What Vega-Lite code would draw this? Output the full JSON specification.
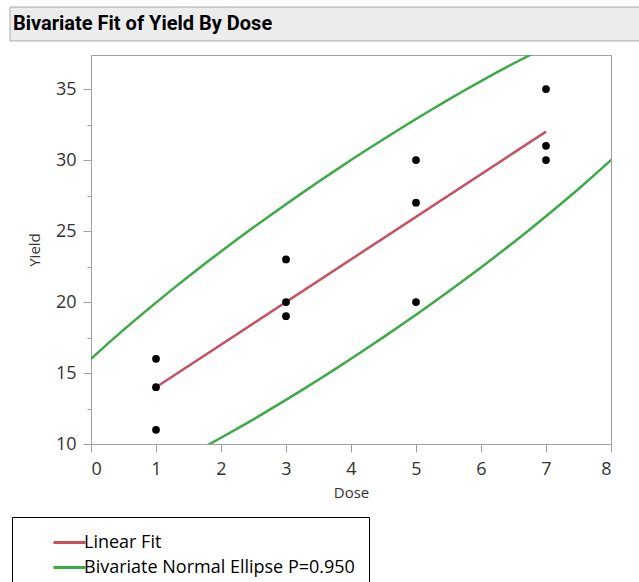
{
  "$schema": "https://vega.github.io/schema/vega-lite/v6.json",
  "width": 520,
  "height": 389,
  "autosize": {"type": "none"},
  "padding": {"left": 91, "top": 55, "right": 28, "bottom": 138},
  "background": "white",
  "title": {
    "text": "Bivariate Fit of Yield By Dose",
    "anchor": "start",
    "frame": "group",
    "orient": "top",
    "baseline": "alphabetic",
    "offset": -24,
    "dx": -78,
    "dy": 19,
    "font": "Roboto",
    "fontSize": 20,
    "fontWeight": "bold",
    "color": "black"
  },
  "config": {
    "view": {"stroke": "#a0a0a0", "strokeWidth": 1},
    "axis": {
      "domainColor": "#a0a0a0",
      "tickColor": "#a0a0a0",
      "grid": false,
      "labelFont": "Open Sans",
      "labelFontSize": 18,
      "labelColor": "#333333",
      "titleFont": "Open Sans",
      "titleFontSize": 15,
      "titleFontWeight": "normal",
      "titleColor": "#333333"
    }
  },
  "datasets": {
    "points": [
      {"dose": 1, "yield": 16}, {"dose": 1, "yield": 14}, {"dose": 1, "yield": 11},
      {"dose": 3, "yield": 23}, {"dose": 3, "yield": 20}, {"dose": 3, "yield": 19},
      {"dose": 5, "yield": 30}, {"dose": 5, "yield": 27}, {"dose": 5, "yield": 20},
      {"dose": 7, "yield": 35}, {"dose": 7, "yield": 31}, {"dose": 7, "yield": 30}
    ],
    "fit": [
      {"dose": 1, "yield": 14, "series": "Linear Fit"},
      {"dose": 7, "yield": 32, "series": "Linear Fit"}
    ],
    "ellipse": [
      {"dose": -0.25, "yield": 14.93, "part": "upper", "series": "Bivariate Normal Ellipse P=0.950"},
      {"dose": 0, "yield": 16.0, "part": "upper", "series": "Bivariate Normal Ellipse P=0.950"},
      {"dose": 0.25, "yield": 17.03, "part": "upper", "series": "Bivariate Normal Ellipse P=0.950"},
      {"dose": 0.5, "yield": 18.04, "part": "upper", "series": "Bivariate Normal Ellipse P=0.950"},
      {"dose": 0.75, "yield": 19.01, "part": "upper", "series": "Bivariate Normal Ellipse P=0.950"},
      {"dose": 1, "yield": 19.96, "part": "upper", "series": "Bivariate Normal Ellipse P=0.950"},
      {"dose": 1.25, "yield": 20.89, "part": "upper", "series": "Bivariate Normal Ellipse P=0.950"},
      {"dose": 1.5, "yield": 21.8, "part": "upper", "series": "Bivariate Normal Ellipse P=0.950"},
      {"dose": 1.75, "yield": 22.69, "part": "upper", "series": "Bivariate Normal Ellipse P=0.950"},
      {"dose": 2, "yield": 23.56, "part": "upper", "series": "Bivariate Normal Ellipse P=0.950"},
      {"dose": 2.25, "yield": 24.42, "part": "upper", "series": "Bivariate Normal Ellipse P=0.950"},
      {"dose": 2.5, "yield": 25.26, "part": "upper", "series": "Bivariate Normal Ellipse P=0.950"},
      {"dose": 2.75, "yield": 26.08, "part": "upper", "series": "Bivariate Normal Ellipse P=0.950"},
      {"dose": 3, "yield": 26.89, "part": "upper", "series": "Bivariate Normal Ellipse P=0.950"},
      {"dose": 3.25, "yield": 27.69, "part": "upper", "series": "Bivariate Normal Ellipse P=0.950"},
      {"dose": 3.5, "yield": 28.47, "part": "upper", "series": "Bivariate Normal Ellipse P=0.950"},
      {"dose": 3.75, "yield": 29.24, "part": "upper", "series": "Bivariate Normal Ellipse P=0.950"},
      {"dose": 4, "yield": 30.0, "part": "upper", "series": "Bivariate Normal Ellipse P=0.950"},
      {"dose": 4.25, "yield": 30.74, "part": "upper", "series": "Bivariate Normal Ellipse P=0.950"},
      {"dose": 4.5, "yield": 31.47, "part": "upper", "series": "Bivariate Normal Ellipse P=0.950"},
      {"dose": 4.75, "yield": 32.19, "part": "upper", "series": "Bivariate Normal Ellipse P=0.950"},
      {"dose": 5, "yield": 32.89, "part": "upper", "series": "Bivariate Normal Ellipse P=0.950"},
      {"dose": 5.25, "yield": 33.58, "part": "upper", "series": "Bivariate Normal Ellipse P=0.950"},
      {"dose": 5.5, "yield": 34.26, "part": "upper", "series": "Bivariate Normal Ellipse P=0.950"},
      {"dose": 5.75, "yield": 34.92, "part": "upper", "series": "Bivariate Normal Ellipse P=0.950"},
      {"dose": 6, "yield": 35.56, "part": "upper", "series": "Bivariate Normal Ellipse P=0.950"},
      {"dose": 6.25, "yield": 36.19, "part": "upper", "series": "Bivariate Normal Ellipse P=0.950"},
      {"dose": 6.5, "yield": 36.8, "part": "upper", "series": "Bivariate Normal Ellipse P=0.950"},
      {"dose": 6.75, "yield": 37.39, "part": "upper", "series": "Bivariate Normal Ellipse P=0.950"},
      {"dose": 7, "yield": 37.96, "part": "upper", "series": "Bivariate Normal Ellipse P=0.950"},
      {"dose": 1.5, "yield": 9.2, "part": "lower", "series": "Bivariate Normal Ellipse P=0.950"},
      {"dose": 1.75, "yield": 9.81, "part": "lower", "series": "Bivariate Normal Ellipse P=0.950"},
      {"dose": 2, "yield": 10.44, "part": "lower", "series": "Bivariate Normal Ellipse P=0.950"},
      {"dose": 2.25, "yield": 11.08, "part": "lower", "series": "Bivariate Normal Ellipse P=0.950"},
      {"dose": 2.5, "yield": 11.74, "part": "lower", "series": "Bivariate Normal Ellipse P=0.950"},
      {"dose": 2.75, "yield": 12.42, "part": "lower", "series": "Bivariate Normal Ellipse P=0.950"},
      {"dose": 3, "yield": 13.11, "part": "lower", "series": "Bivariate Normal Ellipse P=0.950"},
      {"dose": 3.25, "yield": 13.81, "part": "lower", "series": "Bivariate Normal Ellipse P=0.950"},
      {"dose": 3.5, "yield": 14.53, "part": "lower", "series": "Bivariate Normal Ellipse P=0.950"},
      {"dose": 3.75, "yield": 15.26, "part": "lower", "series": "Bivariate Normal Ellipse P=0.950"},
      {"dose": 4, "yield": 16.0, "part": "lower", "series": "Bivariate Normal Ellipse P=0.950"},
      {"dose": 4.25, "yield": 16.76, "part": "lower", "series": "Bivariate Normal Ellipse P=0.950"},
      {"dose": 4.5, "yield": 17.53, "part": "lower", "series": "Bivariate Normal Ellipse P=0.950"},
      {"dose": 4.75, "yield": 18.31, "part": "lower", "series": "Bivariate Normal Ellipse P=0.950"},
      {"dose": 5, "yield": 19.11, "part": "lower", "series": "Bivariate Normal Ellipse P=0.950"},
      {"dose": 5.25, "yield": 19.92, "part": "lower", "series": "Bivariate Normal Ellipse P=0.950"},
      {"dose": 5.5, "yield": 20.74, "part": "lower", "series": "Bivariate Normal Ellipse P=0.950"},
      {"dose": 5.75, "yield": 21.58, "part": "lower", "series": "Bivariate Normal Ellipse P=0.950"},
      {"dose": 6, "yield": 22.44, "part": "lower", "series": "Bivariate Normal Ellipse P=0.950"},
      {"dose": 6.25, "yield": 23.31, "part": "lower", "series": "Bivariate Normal Ellipse P=0.950"},
      {"dose": 6.5, "yield": 24.2, "part": "lower", "series": "Bivariate Normal Ellipse P=0.950"},
      {"dose": 6.75, "yield": 25.11, "part": "lower", "series": "Bivariate Normal Ellipse P=0.950"},
      {"dose": 7, "yield": 26.04, "part": "lower", "series": "Bivariate Normal Ellipse P=0.950"},
      {"dose": 7.25, "yield": 26.99, "part": "lower", "series": "Bivariate Normal Ellipse P=0.950"},
      {"dose": 7.5, "yield": 27.96, "part": "lower", "series": "Bivariate Normal Ellipse P=0.950"},
      {"dose": 7.75, "yield": 28.97, "part": "lower", "series": "Bivariate Normal Ellipse P=0.950"},
      {"dose": 8, "yield": 30.0, "part": "lower", "series": "Bivariate Normal Ellipse P=0.950"},
      {"dose": 8.25, "yield": 31.07, "part": "lower", "series": "Bivariate Normal Ellipse P=0.950"}
    ]
  },
  "resolve": {"axis": {"x": "independent", "y": "independent"}},
  "layer": [
    {
      "data": {"values": [{}]},
      "mark": {"type": "rect", "fill": "#ececec", "stroke": "#a8a8a8", "strokeWidth": 1, "clip": false},
      "encoding": {
        "x": {"datum": -1.246, "type": "quantitative", "scale": {"domain": [0, 8], "nice": false, "zero": false}, "axis": null},
        "x2": {"datum": 8.6},
        "y": {"datum": 40.78, "type": "quantitative", "scale": {"domain": [10, 37.4], "nice": false, "zero": false}, "axis": null},
        "y2": {"datum": 38.39}
      }
    },
    {
      "data": {"name": "ellipse"},
      "mark": {"type": "line", "strokeWidth": 2.5, "clip": true},
      "encoding": {
        "x": {"field": "dose", "type": "quantitative", "scale": {"domain": [0, 8], "nice": false, "zero": false}, "axis": null},
        "y": {"field": "yield", "type": "quantitative", "scale": {"domain": [10, 37.4], "nice": false, "zero": false}, "axis": null},
        "detail": {"field": "part"},
        "order": {"field": "dose"},
        "color": {
          "field": "series",
          "type": "nominal",
          "scale": {"domain": ["Linear Fit", "Bivariate Normal Ellipse P=0.950"], "range": ["#c8505f", "#3caa46"]},
          "legend": {
            "orient": "none",
            "legendX": -79,
            "legendY": 462,
            "title": null,
            "strokeColor": "black",
            "fillColor": "white",
            "padding": 14,
            "symbolType": "M-1.6,0H1.6",
            "symbolSize": 400,
            "symbolStrokeWidth": 3,
            "symbolOffset": 32,
            "labelOffset": 3,
            "labelFont": "Open Sans",
            "labelFontSize": 18,
            "labelColor": "black",
            "rowPadding": 4,
            "labelLimit": 400
          }
        }
      }
    },
    {
      "data": {"name": "fit"},
      "mark": {"type": "line", "strokeWidth": 2.5, "clip": true},
      "encoding": {
        "x": {"field": "dose", "type": "quantitative", "scale": {"domain": [0, 8], "nice": false, "zero": false}, "axis": null},
        "y": {"field": "yield", "type": "quantitative", "scale": {"domain": [10, 37.4], "nice": false, "zero": false},
          "axis": {"orient": "left", "values": [12.5, 17.5, 22.5, 27.5, 32.5], "labels": false, "tickSize": 4, "domain": false, "title": null}},
        "color": {"field": "series", "type": "nominal"}
      }
    },
    {
      "data": {"name": "points"},
      "mark": {"type": "circle", "size": 60, "color": "black", "opacity": 1},
      "encoding": {
        "x": {"field": "dose", "type": "quantitative", "scale": {"domain": [0, 8], "nice": false, "zero": false},
          "axis": {"orient": "bottom", "values": [0, 1, 2, 3, 4, 5, 6, 7, 8], "tickSize": 8, "labelPadding": 8, "title": "Dose", "titlePadding": 7}},
        "y": {"field": "yield", "type": "quantitative", "scale": {"domain": [10, 37.4], "nice": false, "zero": false},
          "axis": {"orient": "left", "values": [10, 15, 20, 25, 30, 35], "tickSize": 8, "labelPadding": 7, "title": "Yield", "titlePadding": 13}}
      }
    }
  ]
}
